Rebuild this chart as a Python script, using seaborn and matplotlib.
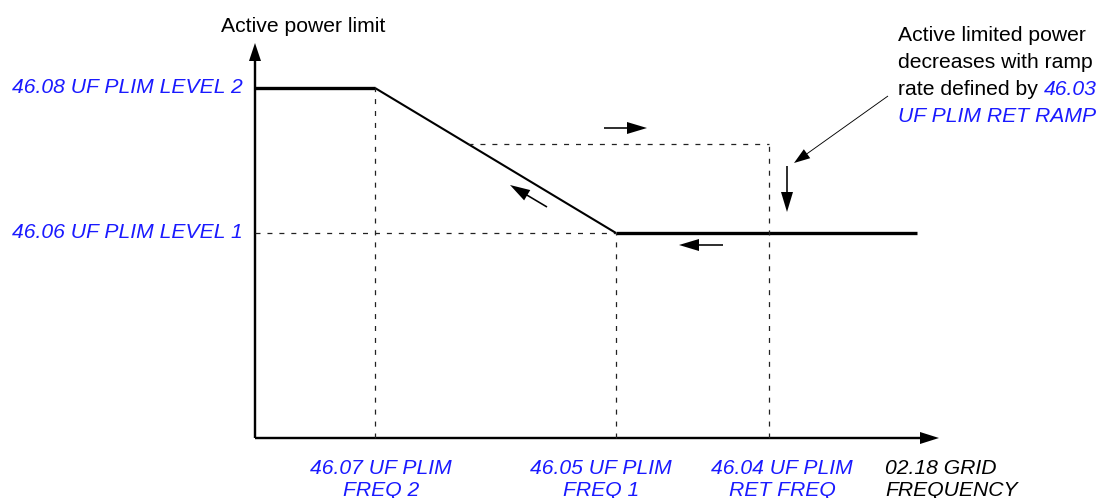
import numpy as np
import pandas as pd
import matplotlib
matplotlib.use("Agg")
import matplotlib.pyplot as plt
import seaborn as sns

# Frequency break points (x) and the corresponding active power limit (y)
freq_points = [0, 120, 361, 662]
power_limit = [350, 350, 205, 205]
ret_freq = 514
ret_level = 294
x_axis_end = 684
y_axis_end = 395

level_labels = ["46.08 UF PLIM LEVEL 2", "46.06 UF PLIM LEVEL 1"]
freq_labels = ["46.07 UF PLIM\nFREQ 2", "46.05 UF PLIM\nFREQ 1", "46.04 UF PLIM\nRET FREQ"]
freq_label_x = [126, 346, 527]
axis_x_label = "02.18 GRID\nFREQUENCY"
axis_y_label = "Active power limit"
note_lines = ["Active limited power", "decreases with ramp", "rate defined by "]
note_param = ["46.03", "UF PLIM RET RAMP"]

# Direction arrows: (tail_x, tail_y, tip_x, tip_y)
direction_arrows = [
    (349, 310, 392, 310),
    (292, 231, 255, 253),
    (468, 193, 424, 193),
    (532, 272, 532, 226),
]
note_arrow = (633, 342, 539, 275)

BLUE = "#1a1aff"

sns.set_theme(style="white")
plt.rcParams["font.family"] = ["Liberation Sans", "DejaVu Sans"]
plt.rcParams["lines.scale_dashes"] = False

fig = plt.figure(figsize=(11.01, 4.98), dpi=100)
ax = fig.add_axes([0, 0, 1, 1])

curve = pd.DataFrame({"freq": freq_points, "limit": power_limit})
segments = [(0, 1, 2.4), (1, 2, 1.5), (2, 3, 2.4)]
for i0, i1, lw in segments:
    sns.lineplot(data=curve.iloc[i0:i1 + 1], x="freq", y="limit", ax=ax,
                 color="black", lw=lw, sort=False, estimator=None,
                 solid_capstyle="butt")

f0, f2, f1, fend = freq_points
l2, l1 = power_limit[1], power_limit[2]
dash_kw = dict(color="#222222", lw=0.9, dashes=(3.6, 5.0))

# Guide lines
ax.plot([f2, f2], [0, l2], **dash_kw)
ax.plot([f1, f1], [0, l1], **dash_kw)
ax.plot([0, f1], [l1, l1], **dash_kw)
x_ret_start = np.interp(ret_level, [l1, l2], [f1, f2])
ax.plot([x_ret_start, ret_freq], [ret_level, ret_level], **dash_kw)
ax.plot([ret_freq, ret_freq], [0, ret_level], **dash_kw)

# Axes with arrow heads
ax.arrow(0, 0, 0, y_axis_end, width=2.4, head_width=12, head_length=18,
         length_includes_head=True, color="black", lw=0)
ax.arrow(0, 0, x_axis_end, 0, width=2.4, head_width=12, head_length=19,
         length_includes_head=True, color="black", lw=0)

for tx, ty, hx, hy in direction_arrows:
    ax.arrow(tx, ty, hx - tx, hy - ty, width=1.6, head_width=12, head_length=20,
             length_includes_head=True, color="black", lw=0)

tx, ty, hx, hy = note_arrow
ax.arrow(tx, ty, hx - tx, hy - ty, width=0.9, head_width=11, head_length=16,
         length_includes_head=True, color="black", lw=0)

fs = 15.2
ax.text(48, 406, axis_y_label, ha="center", va="baseline", fontsize=fs, color="black")
for lab, lev in zip(level_labels, [l2, l1]):
    ax.text(-12, lev - 5, lab, ha="right", va="baseline", fontsize=fs,
            color=BLUE, style="italic")
# Two-line labels: baseline alignment refers to the last line
for lab, x in zip(freq_labels, freq_label_x):
    ax.text(x, -58, lab, ha="center", va="baseline", fontsize=fs,
            color=BLUE, style="italic", linespacing=1.2)
ax.text(630, -58, axis_x_label, ha="left", va="baseline", fontsize=fs,
        color="black", style="italic", linespacing=1.2)

note_y = [397, 370, 343]
for line, y in zip(note_lines, note_y):
    t = ax.text(643, y, line, ha="left", va="baseline", fontsize=fs, color="black")
ax.annotate(note_param[0], xy=(1, 0), xycoords=t, ha="left", va="bottom",
            fontsize=fs, color=BLUE, style="italic")
ax.text(643, 316, note_param[1], ha="left", va="baseline", fontsize=fs,
        color=BLUE, style="italic")

ax.set_xlim(-255, 846)
ax.set_ylim(-60, 438)
ax.axis("off")

fig.savefig("out.png", dpi=100)
